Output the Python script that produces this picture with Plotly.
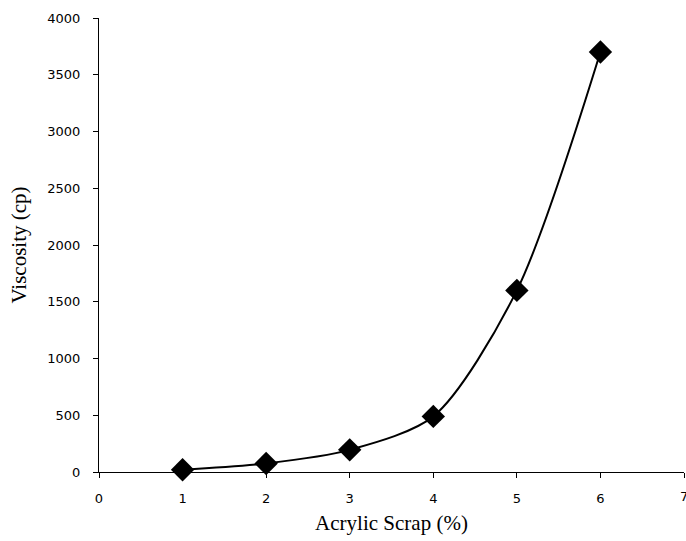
import plotly.graph_objects as go

scrap_pct = [1, 2, 3, 4, 5, 6]
viscosity_cp = [20, 75, 195, 490, 1600, 3700]

x_ticks = [0, 1, 2, 3, 4, 5, 6, 7]
y_ticks = [0, 500, 1000, 1500, 2000, 2500, 3000, 3500, 4000]

fig = go.Figure()
fig.add_trace(go.Scatter(
    x=scrap_pct, y=viscosity_cp, mode="lines+markers",
    line=dict(color="black", width=2, shape="spline", smoothing=0.8),
    marker=dict(symbol="diamond", size=18, color="black"),
    showlegend=False, cliponaxis=False, hoverinfo="skip",
))

tick_font = dict(family="DejaVu Sans", size=13, color="black")
title_font = dict(family="Liberation Serif", size=21, color="black")

# last x tick label sits on the page edge; draw it so it shows like the reference
fig.add_annotation(x=x_ticks[-1], y=y_ticks[0], xref="x", yref="y",
                   text=str(x_ticks[-1]), showarrow=False, font=tick_font,
                   xanchor="center", yanchor="top", yshift=-15)

fig.update_layout(
    width=686, height=541,
    margin=dict(l=99, r=2, t=18, b=69, autoexpand=False),
    paper_bgcolor="white", plot_bgcolor="white",
    xaxis=dict(range=[0, 7], tickvals=x_ticks, showgrid=False, zeroline=False,
               showline=True, linecolor="black", linewidth=1,
               ticks="outside", ticklen=5, tickcolor="black",
               tickfont=tick_font, automargin=False, ticklabelstandoff=9,
               title=dict(text="Acrylic Scrap (%)", font=title_font, standoff=10)),
    yaxis=dict(range=[0, 4000], tickvals=y_ticks, showgrid=False, zeroline=False,
               showline=True, linecolor="black", linewidth=1,
               ticks="outside", ticklen=5, tickcolor="black",
               tickfont=tick_font, automargin=False, ticklabelstandoff=10,
               title=dict(text="Viscosity (cp)", font=title_font, standoff=14)),
)

fig.write_html("out.html", config={"displayModeBar": False},
               post_script="document.body.style.margin='0';document.body.style.overflow='hidden';")
